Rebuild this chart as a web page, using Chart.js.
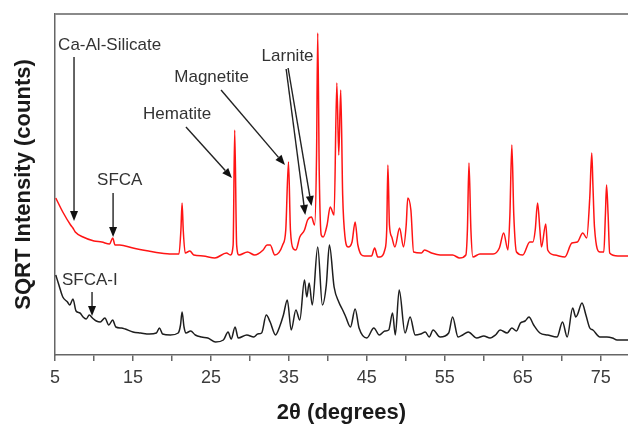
<!DOCTYPE html>
<html>
<head>
<meta charset="utf-8">
<script src="https://cdn.jsdelivr.net/npm/chart.js@4.4.1/dist/chart.umd.min.js"></script>
<style>
  html, body { margin: 0; padding: 0; background: #fff; }
  #xrd { display: block; }
</style>
</head>
<body>
<canvas id="xrd" width="628" height="426"></canvas>
<script>
// upper pattern (red)
const redTheta = [5.1, 6.0, 7.0, 7.3, 7.6, 8.6, 10.0, 11.0, 12.0, 12.4, 12.7, 13.3, 15.0, 17.0, 18.5, 20.0, 20.9, 21.15, 21.3, 21.45, 21.7, 22.3, 22.8, 24.0, 25.5, 27.0, 27.5, 27.85, 28.05, 28.3, 28.6, 29.7, 30.6, 31.7, 32.2, 32.6, 33.2, 34.2, 34.6, 34.95, 35.2, 35.6, 35.9, 36.4, 37.0, 37.4, 37.9, 38.3, 38.55, 38.7, 38.9, 39.15, 39.4, 39.9, 40.3, 40.8, 41.15, 41.4, 41.65, 41.9, 42.2, 42.6, 43.1, 43.5, 43.85, 44.7, 45.6, 46.0, 46.4, 46.7, 47.3, 47.55, 47.7, 47.9, 48.2, 48.6, 49.2, 49.7, 50.05, 50.25, 50.65, 51.0, 52.0, 52.4, 53.3, 54.4, 56.0, 56.9, 57.7, 57.9, 58.1, 58.35, 58.6, 59.5, 61.2, 62.0, 62.55, 63.1, 63.35, 63.6, 63.85, 64.2, 65.0, 65.9, 66.3, 66.6, 66.9, 67.2, 67.4, 67.95, 68.2, 69.1, 70.4, 71.3, 72.0, 72.7, 73.2, 73.6, 73.85, 74.0, 74.2, 74.9, 75.4, 75.6, 75.75, 75.95, 76.15, 77.2, 78.5];
const redCounts = [157, 143, 130, 127, 123, 118, 114, 113, 111, 117, 110, 110, 107, 104, 102, 101, 101, 125, 152, 125, 102, 104, 100, 99, 97, 102, 100, 110, 225, 110, 100, 103, 100, 105, 110, 110, 100, 110, 125, 193, 125, 106, 105, 118, 125, 135, 138, 130, 200, 322, 180, 120, 118, 130, 148, 140, 272, 200, 265, 160, 118, 108, 113, 133, 110, 99, 99, 107, 98, 98, 105, 125, 190, 130, 118, 108, 127, 108, 130, 157, 145, 103, 102, 105, 102, 100, 100, 97, 100, 125, 192, 125, 98, 101, 101, 107, 122, 105, 140, 210, 140, 103, 100, 113, 113, 125, 152, 125, 108, 131, 105, 100, 98, 112, 113, 122, 117, 158, 202, 170, 128, 103, 103, 140, 170, 140, 102, 99, 99];

// lower pattern (black)
const blackTheta = [5.1, 5.5, 6.0, 6.6, 6.9, 7.3, 7.7, 8.2, 8.6, 9.0, 9.4, 9.8, 10.3, 10.8, 11.4, 11.9, 12.4, 12.8, 13.5, 14.0, 15.0, 16.0, 17.1, 18.0, 18.4, 18.8, 19.8, 20.8, 21.1, 21.3, 21.55, 21.8, 22.4, 23.0, 23.8, 24.6, 25.6, 26.6, 27.2, 27.6, 28.1, 28.5, 29.6, 30.5, 31.0, 31.5, 32.1, 32.6, 33.3, 33.8, 34.3, 34.8, 35.3, 35.9, 36.4, 37.0, 37.3, 37.6, 38.0, 38.7, 39.3, 39.8, 40.2, 40.8, 41.4, 41.9, 42.3, 42.9, 43.5, 44.0, 45.0, 45.9, 46.6, 47.3, 47.8, 48.3, 48.65, 49.15, 49.9, 50.55, 51.2, 51.9, 52.5, 53.0, 53.5, 54.4, 55.5, 56.0, 56.7, 57.3, 58.0, 59.1, 60.0, 60.8, 61.5, 62.1, 63.0, 63.6, 64.2, 64.7, 65.3, 65.8, 66.4, 67.2, 68.2, 69.4, 70.1, 70.7, 71.4, 71.8, 72.0, 72.6, 73.1, 73.6, 74.0, 74.9, 75.8, 76.5, 77.1, 78.5];
const blackCounts = [80, 70, 58, 53, 50, 56, 44, 42, 38, 36, 40, 37, 34, 33, 37, 30, 35, 28, 27, 26, 23, 22, 21, 22, 27, 21, 20, 22, 30, 43, 28, 22, 24, 20, 18, 17, 13, 15, 23, 16, 28, 17, 20, 18, 21, 22, 40, 33, 20, 28, 40, 55, 25, 45, 35, 75, 58, 72, 50, 108, 50, 70, 110, 68, 53, 45, 38, 28, 46, 27, 17, 27, 20, 24, 25, 42, 20, 65, 22, 38, 20, 21, 23, 18, 25, 18, 22, 38, 18, 20, 23, 17, 19, 17, 20, 25, 22, 27, 24, 32, 34, 38, 30, 22, 20, 18, 33, 18, 47, 38, 40, 52, 40, 27, 25, 18, 18, 17, 15, 15];

const xTickLabels = [5, 15, 25, 35, 45, 55, 65, 75];

// phase labels, anchored in data space (2θ, intensity)
const phaseNotes = [
    { text: 'Ca-Al-Silicate', at: [5.4, 310], arrows: [[7.44, 298, 7.44, 134]] },
    { text: 'SFCA', at: [10.4, 175], arrows: [[12.45, 162, 12.45, 118]] },
    { text: 'Hematite', at: [16.3, 241], arrows: [[21.8, 228, 27.7, 177]] },
    { text: 'Magnetite', at: [20.3, 278], arrows: [[26.3, 265, 34.5, 190]] },
    { text: 'Larnite', at: [31.5, 299], arrows: [[34.65, 286, 37.1, 140], [34.9, 287, 37.9, 149]] },
    { text: 'SFCA-I', at: [5.9, 75], arrows: [[9.75, 63, 9.75, 39]] },
];

const toPoints = (xs, ys) => xs.map((x, i) => ({ x, y: ys[i] }));

const drawArrow = (ctx, x1, y1, x2, y2) => {
    const ang = Math.atan2(y2 - y1, x2 - x1);
    const len = 10, half = 4;
    ctx.beginPath();
    ctx.moveTo(x1, y1);
    ctx.lineTo(x2 - len * Math.cos(ang), y2 - len * Math.sin(ang));
    ctx.stroke();
    ctx.beginPath();
    ctx.moveTo(x2, y2);
    ctx.lineTo(x2 - len * Math.cos(ang) + half * Math.sin(ang), y2 - len * Math.sin(ang) - half * Math.cos(ang));
    ctx.lineTo(x2 - len * Math.cos(ang) - half * Math.sin(ang), y2 - len * Math.sin(ang) + half * Math.cos(ang));
    ctx.closePath();
    ctx.fill();
};

const notesPlugin = {
    id: 'phaseNotes',
    afterDatasetsDraw(chart) {
        const { ctx, scales: { x, y }, chartArea } = chart;
        ctx.save();
        // top frame line
        ctx.strokeStyle = '#8a8a8a';
        ctx.lineWidth = 2;
        ctx.beginPath();
        ctx.moveTo(chartArea.left, chartArea.top);
        ctx.lineTo(chartArea.right, chartArea.top);
        ctx.stroke();

        ctx.font = '17px "Liberation Sans", Arial, sans-serif';
        ctx.textBaseline = 'middle';
        ctx.textAlign = 'left';
        ctx.strokeStyle = '#222';
        ctx.lineWidth = 1.4;
        phaseNotes.forEach(n => {
            ctx.fillStyle = '#333';
            ctx.fillText(n.text, x.getPixelForValue(n.at[0]), y.getPixelForValue(n.at[1]));
            ctx.fillStyle = '#111';
            n.arrows.forEach(a => drawArrow(ctx,
                x.getPixelForValue(a[0]), y.getPixelForValue(a[1]),
                x.getPixelForValue(a[2]), y.getPixelForValue(a[3])));
        });
        ctx.restore();
    },
};

new Chart(document.getElementById('xrd'), {
    type: 'line',
    data: {
        datasets: [
            { label: 'red', data: toPoints(redTheta, redCounts), borderColor: '#ff1414', borderWidth: 1.5, pointRadius: 0, cubicInterpolationMode: 'monotone' },
            { label: 'black', data: toPoints(blackTheta, blackCounts), borderColor: '#1e1e1e', borderWidth: 1.5, pointRadius: 0, cubicInterpolationMode: 'monotone' },
        ],
    },
    options: {
        responsive: false,
        animation: false,
        layout: { padding: { top: 14, right: 0, left: 0, bottom: 0 } },
        plugins: { legend: { display: false }, tooltip: { enabled: false } },
        scales: {
            x: {
                type: 'linear',
                min: 5,
                max: 78.5,
                afterFit: s => { s.height = 71; },
                border: { color: '#666', width: 1.5 },
                grid: { drawOnChartArea: false, drawTicks: true, tickLength: 6, color: '#666', lineWidth: 1.5 },
                ticks: {
                    stepSize: 5,
                    includeBounds: false,
                    maxRotation: 0,
                    autoSkip: false,
                    padding: 6,
                    color: '#3c3c3c',
                    font: { family: '"Liberation Sans", Arial, sans-serif', size: 18 },
                    callback: v => (xTickLabels.includes(v) ? String(v) : ''),
                },
                title: {
                    display: true,
                    text: '2θ (degrees)',
                    color: '#1a1a1a',
                    padding: 0,
                    font: { family: '"Liberation Sans", Arial, sans-serif', size: 22, weight: 'bold' },
                },
            },
            y: {
                min: 0,
                max: 341,
                afterFit: s => { s.width = 55; },
                border: { color: '#666', width: 1.5 },
                grid: { display: false },
                ticks: { display: false },
                title: {
                    display: true,
                    text: 'SQRT Intensity (counts)',
                    color: '#1a1a1a',
                    padding: { top: 11, bottom: 0 },
                    font: { family: '"Liberation Sans", Arial, sans-serif', size: 22, weight: 'bold' },
                },
            },
        },
    },
    plugins: [notesPlugin],
});
</script>
</body>
</html>
